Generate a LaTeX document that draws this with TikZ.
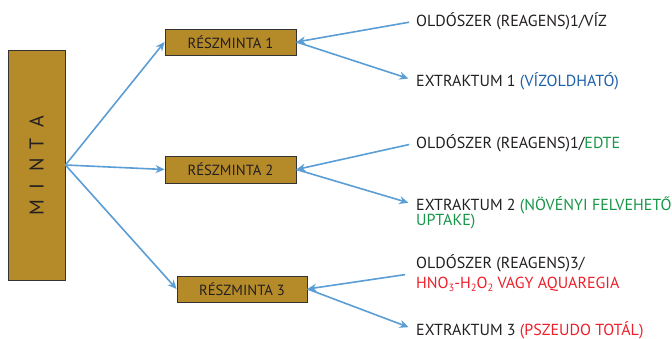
\documentclass[tikz,border=0pt]{standalone}
\usepackage{fontspec}
\setmainfont{PT Sans}
\usetikzlibrary{arrows.meta}
\definecolor{boxfill}{RGB}{181,139,42}
\definecolor{arrowblue}{RGB}{91,157,213}
\definecolor{txtgray}{RGB}{35,31,32}
\definecolor{tblue}{RGB}{30,96,168}
\definecolor{tgreen}{RGB}{24,150,72}
\definecolor{tred}{RGB}{236,32,42}
\newcommand{\mysub}[1]{\raisebox{-2.8pt}{\fontsize{10.5}{10.5}\selectfont #1}}
\newcommand{\lt}[1]{\makebox[21.5pt]{#1}}
\tikzset{
  sub/.style={draw=black!80, line width=0.9pt, fill=boxfill, text=txtgray, font=\fontsize{14.7}{16}\selectfont, inner sep=0pt},
  lbl/.style={anchor=west, inner sep=0pt, text=txtgray, font=\fontsize{16}{17}\selectfont, align=left},
  arr/.style={draw=arrowblue, line width=1.6pt, -{Stealth[length=9pt,width=8pt]}},
}
\begin{document}
\begin{tikzpicture}[x=1pt,y=-1pt]
\useasboundingbox (0,0) rectangle (672,339);
\node[sub, minimum width=57pt, minimum height=230pt] (m) at (36.5,165) {};
\node[rotate=90, text=txtgray, font=\fontsize{20}{20}\selectfont, inner sep=0pt] (mt) at (36.5,165) {\lt{M}\lt{I}\lt{N}\lt{T}\lt{A}};
\node[sub, minimum width=131pt, minimum height=26pt] (r1) at (230.5,42) {RÉSZMINTA 1};
\node[sub, minimum width=131pt, minimum height=27pt] (r2) at (230.5,169.5) {RÉSZMINTA 2};
\node[sub, minimum width=130pt, minimum height=26pt] (r3) at (242,289) {RÉSZMINTA 3};
\node[lbl] (o1) at (416,21) {OLDÓSZER (REAGENS)1/VÍZ};
\node[lbl] (e1) at (416,81) {EXTRAKTUM 1 {\color{tblue}(VÍZOLDHATÓ)}};
\node[lbl] (o2) at (416,143) {OLDÓSZER (REAGENS)1/{\color{tgreen}EDTE}};
\node[lbl] (e2) at (416,205) {EXTRAKTUM 2 {\color{tgreen}(NÖVÉNYI FELVEHETŐ}};
\node[lbl, text=tgreen] (u2) at (416,222) {UPTAKE)};
\node[lbl, font=\fontsize{16}{20}\selectfont] (o3) at (416,273) {OLDÓSZER (REAGENS)3/\\{\color{tred}HNO\mysub{3}-H\mysub{2}O\mysub{2} VAGY AQUAREGIA}};
\node[lbl] (e3) at (416,330) {EXTRAKTUM 3 {\color{tred}(PSZEUDO TOTÁL)}};
\draw[arr] (m.east) -- (r1.west);
\draw[arr] (m.east) -- (r2.west);
\draw[arr] (m.east) -- (r3.west);
\draw[arr, shorten <=7pt] (o1.west) -- (r1.east);
\draw[arr, shorten >=8pt] (r1.east) -- (e1.west);
\draw[arr, shorten <=7pt] (o2.west) -- (r2.east);
\draw[arr, shorten >=8pt] (r2.east) -- (e2.west);
\draw[arr, shorten <=11pt] (o3.west) -- (r3.east);
\draw[arr, shorten >=8pt] (r3.east) -- (e3.west);
\end{tikzpicture}
\end{document}
